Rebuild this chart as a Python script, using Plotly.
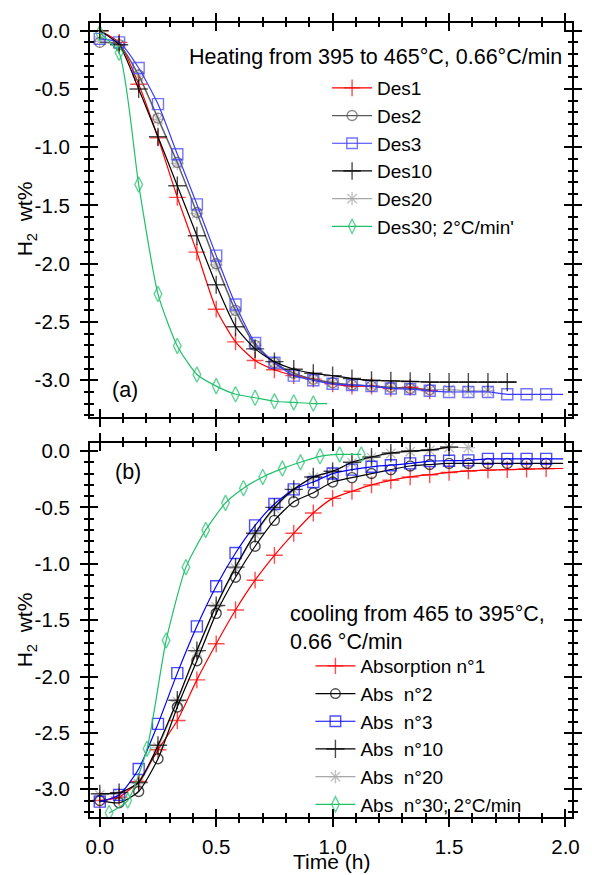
import plotly.graph_objects as go

# ---------------- data: desorption (heating) ----------------
t_des = [0.0, 0.083, 0.167, 0.25, 0.333, 0.417, 0.5, 0.583, 0.667, 0.75, 0.833,
         0.917, 1.0, 1.083, 1.167, 1.25, 1.333, 1.417, 1.5, 1.583, 1.667, 1.75,
         1.833, 1.917]

des1 = [0.0, -0.10, -0.46, -0.92, -1.43, -1.90, -2.39, -2.67, -2.83, -2.91, -2.96,
        -2.99, -3.03, -3.05, -3.05, -3.07, -3.06, -3.09]
des2 = [-0.10, -0.12, -0.38, -0.75, -1.13, -1.56, -2.00, -2.40, -2.70, -2.85, -2.94,
        -2.99, -3.02, -3.04, -3.05, -3.06, -3.07, -3.08]
des3 = [-0.07, -0.10, -0.32, -0.63, -1.06, -1.49, -1.93, -2.35, -2.68, -2.85, -2.96,
        -3.00, -3.03, -3.04, -3.05, -3.07, -3.075, -3.09, -3.10, -3.10, -3.10, -3.12,
        -3.12, -3.12]
des3_end = (1.99, -3.12)
des10 = [0.0, -0.12, -0.50, -0.91, -1.33, -1.76, -2.18, -2.54, -2.73, -2.84, -2.905,
         -2.94, -2.96, -2.985, -3.00, -3.005, -3.01, -3.015, -3.015, -3.015, -3.015,
         -3.015]
des10_end = (1.79, -3.015)
des20 = [-0.09, -0.12, -0.39, -0.76, -1.14, -1.57, -2.01, -2.41, -2.70, -2.85, -2.94,
         -2.99, -3.02, -3.04, -3.05, -3.06, -3.07, -3.08, -3.08, -3.09, -3.09]
des30 = [-0.02, -0.19, -1.32, -2.26, -2.705, -2.95, -3.05, -3.12, -3.15, -3.18, -3.19,
         -3.20]
des30_end = (0.977, -3.20)

# ---------------- data: absorption (cooling) ----------------
t_abs = t_des
abs1 = [-3.10, -3.07, -2.93, -2.65, -2.39, -2.03, -1.71, -1.41, -1.146, -0.925, -0.73,
        -0.55, -0.42, -0.357, -0.30, -0.26, -0.23, -0.21, -0.19, -0.177, -0.17, -0.165,
        -0.16, -0.156]
abs1_end = (1.99, -0.155)
abs2 = [-3.10, -3.12, -3.02, -2.73, -2.27, -1.86, -1.44, -1.12, -0.845, -0.615, -0.45,
        -0.37, -0.275, -0.236, -0.20, -0.165, -0.133, -0.12, -0.11, -0.11, -0.11, -0.11,
        -0.11, -0.11]
abs2_end = (1.99, -0.11)
abs3 = [-3.11, -3.05, -2.82, -2.42, -1.97, -1.555, -1.20, -0.905, -0.66, -0.47, -0.34,
        -0.275, -0.20, -0.165, -0.14, -0.126, -0.11, -0.09, -0.086, -0.083, -0.07, -0.07,
        -0.07, -0.07]
abs3_end = (1.99, -0.07)
abs10 = [-3.04, -3.03, -2.94, -2.61, -2.21, -1.77, -1.37, -1.03, -0.73, -0.50, -0.34,
         -0.23, -0.18, -0.10, -0.053, -0.018, 0.0, 0.01, 0.035]
abs20 = [-3.05, -3.04, -2.95, -2.63, -2.22, -1.78, -1.38, -1.04, -0.74, -0.51, -0.345,
         -0.235, -0.185, -0.105, -0.058, -0.022, -0.005, 0.005, 0.03, 0.03]
t_abs30 = [0.04, 0.12, 0.203, 0.285, 0.37, 0.455, 0.54, 0.617, 0.70, 0.784, 0.862,
           0.946, 1.03, 1.123]
abs30 = [-3.21, -3.10, -2.64, -1.68, -1.03, -0.70, -0.46, -0.33, -0.23, -0.156, -0.10,
         -0.047, -0.03, -0.03]

y_ticks = [0.0, -0.5, -1.0, -1.5, -2.0, -2.5, -3.0]
y_ticktext = ["0.0", "-0.5", "-1.0", "-1.5", "-2.0", "-2.5", "-3.0"]
x_ticks = [0.0, 0.5, 1.0, 1.5, 2.0]
x_ticktext = ["0.0", "0.5", "1.0", "1.5", "2.0"]

FONT = "Liberation Sans, Arial, sans-serif"
TFS = 20.5   # tick labels
AFS = 21.5   # annotations
LFS = 19     # legend entries
W, H = 592, 875
ML, MR, MT, MB = 90, 10, 23, 58
PW, PH = W - ML - MR, H - MT - MB


def px(x, y):
    """pixel position -> paper coordinates"""
    return (x - ML) / PW, (H - MB - y) / PH


RED, GRAY, BLUE, BLACK, LGRAY, GREEN = "#ff0000", "#5a5a5a", "#3a3aff", "#000000", "#a8a8a8", "#1fc06a"
BLUE2 = "#0000ff"

fig = go.Figure()


def add(name, t, y, color, symbol, size, xa, ya, legend, rank, end=None):
    xs = list(t[:len(y)])
    ys = list(y)
    sizes = [size] * len(xs)
    if end is not None:
        xs.append(end[0])
        ys.append(end[1])
        sizes.append(0)
    fig.add_trace(go.Scatter(
        x=xs, y=ys, name=name, mode="lines+markers", legendrank=rank,
        line=dict(color=color, width=1.2, shape="spline", smoothing=0.6),
        marker=dict(symbol=symbol, size=sizes, color=color,
                    line=dict(color=color, width=1.4)),
        xaxis=xa, yaxis=ya, legend=legend))


# heating panel (Des20 drawn first so the others sit on top of it)
add("Des20", t_des, des20, LGRAY, "asterisk-open", 11, "x", "y", "legend", 5)
add("Des1", t_des, des1, RED, "cross-thin-open", 12, "x", "y", "legend", 1)
add("Des2", t_des, des2, GRAY, "circle-open", 10, "x", "y", "legend", 2)
add("Des3", t_des, des3, BLUE, "square-open", 11, "x", "y", "legend", 3, end=des3_end)
add("Des10", t_des, des10, BLACK, "cross-thin-open", 13, "x", "y", "legend", 4, end=des10_end)
add("Des30; 2°C/min'", t_des, des30, GREEN, "diamond-tall-open", 11, "x", "y", "legend", 6,
    end=des30_end)

# cooling panel
add("Abs  n°20", t_abs, abs20, LGRAY, "asterisk-open", 11, "x2", "y2", "legend2", 5)
add("Absorption n°1", t_abs, abs1, RED, "cross-thin-open", 12, "x2", "y2", "legend2", 1,
    end=abs1_end)
add("Abs  n°2", t_abs, abs2, BLACK, "circle-open", 10, "x2", "y2", "legend2", 2, end=abs2_end)
add("Abs  n°3", t_abs, abs3, BLUE2, "square-open", 11, "x2", "y2", "legend2", 3, end=abs3_end)
add("Abs  n°10", t_abs, abs10, BLACK, "cross-thin-open", 13, "x2", "y2", "legend2", 4)
add("Abs  n°30; 2°C/min", t_abs30, abs30, GREEN, "diamond-tall-open", 11, "x2", "y2",
    "legend2", 6)

# empty traces so the inner-tick overlay axes get drawn
for xa, ya in (("x3", "y3"), ("x4", "y4")):
    fig.add_trace(go.Scatter(x=[], y=[], xaxis=xa, yaxis=ya, showlegend=False,
                             hoverinfo="skip"))

XR = [-0.042, 2.028]
YR_TOP = [-3.315, 0.066]
YR_BOT = [-3.246, 0.071]
dom_top = [px(0, 417)[1], 1.0]
dom_bot = [0.0, px(0, 443)[1]]

tickfont = dict(family=FONT, size=TFS, color="black")


def xaxis(ticks, labels, anchor, **kw):
    return dict(range=XR, domain=[0, 1], anchor=anchor, showgrid=False, zeroline=False,
                showline=True, linecolor="black", linewidth=2, mirror="allticks",
                ticks=ticks, ticklen=8, tickwidth=2, tickcolor="black",
                tickvals=x_ticks, ticktext=x_ticktext, showticklabels=labels,
                tickfont=tickfont, ticklabelstandoff=2,
                minor=dict(dtick=0.1, ticks=ticks, ticklen=4, tickwidth=1.5,
                           tickcolor="black", showgrid=False),
                **kw)


def yaxis(ticks, labels, anchor, rng, dom=None, **kw):
    d = dict(range=rng, anchor=anchor, showgrid=False, zeroline=False,
             showline=True, linecolor="black", linewidth=2, mirror="allticks",
             ticks=ticks, ticklen=8, tickwidth=2, tickcolor="black",
             tickvals=y_ticks, ticktext=y_ticktext, showticklabels=labels,
             tickfont=tickfont, ticklabelstandoff=6,
             minor=dict(dtick=0.1, ticks=ticks, ticklen=4, tickwidth=1.5,
                        tickcolor="black", showgrid=False),
             **kw)
    if dom is not None:
        d["domain"] = dom
    return d


legend_font = dict(family=FONT, size=LFS, color="black")
lx1, ly1 = px(332, 69)
lx2, ly2 = px(315, 647)

ann = []


def note(text, x, y, xanchor="left", yanchor="middle", angle=0, align="left", size=AFS):
    ax, ay = px(x, y)
    ann.append(dict(text=text, x=ax, y=ay, xref="paper", yref="paper",
                    xanchor=xanchor, yanchor=yanchor, showarrow=False,
                    textangle=angle, align=align,
                    font=dict(family=FONT, size=size, color="black")))


note("Heating from 395 to 465°C, 0.66°C/min", 189, 57)
note("(a)", 126, 390, xanchor="center")
note("(b)", 129, 472, xanchor="center")
note("cooling from 465 to 395°C,<br>0.66 °C/min", 292, 628)
note("H<sub>2</sub>  wt%", 25, 219, xanchor="center", angle=-90, size=21)
note("H<sub>2</sub>  wt%", 25, 630, xanchor="center", angle=-90, size=21)
note("Time (h)", 336, 862, xanchor="center", size=21)

fig.update_layout(
    width=W, height=H, autosize=False,
    margin=dict(l=ML, r=MR, t=MT, b=MB, pad=0),
    paper_bgcolor="white", plot_bgcolor="white",
    font=dict(family=FONT, size=TFS, color="black"),
    xaxis=xaxis("outside", False, "y"),
    yaxis=yaxis("outside", True, "x", YR_TOP, dom_top),
    xaxis3=xaxis("inside", False, "y", overlaying="x"),
    yaxis3=yaxis("inside", False, "x", YR_TOP, overlaying="y"),
    xaxis2=xaxis("outside", True, "y2"),
    yaxis2=yaxis("outside", True, "x2", YR_BOT, dom_bot),
    xaxis4=xaxis("inside", False, "y2", overlaying="x2"),
    yaxis4=yaxis("inside", False, "x2", YR_BOT, overlaying="y2"),
    legend=dict(x=lx1, y=ly1, xanchor="left", yanchor="top", bgcolor="rgba(0,0,0,0)",
                font=legend_font, itemwidth=40, tracegroupgap=0, borderwidth=0),
    legend2=dict(x=lx2, y=ly2, xanchor="left", yanchor="top", bgcolor="rgba(0,0,0,0)",
                 font=legend_font, itemwidth=40, tracegroupgap=0, borderwidth=0),
    annotations=ann,
    showlegend=True,
)

fig.write_html("out.html")
